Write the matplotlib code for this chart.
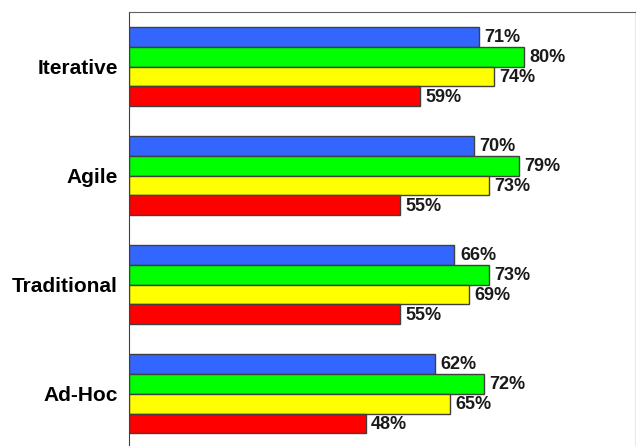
import numpy as np
import matplotlib
matplotlib.use('Agg')
import matplotlib.pyplot as plt

# data
categories = ['Iterative', 'Agile', 'Traditional', 'Ad-Hoc']
blue_vals = [71, 70, 66, 62]
green_vals = [80, 79, 73, 72]
yellow_vals = [74, 73, 69, 65]
red_vals = [59, 55, 55, 48]

series = [blue_vals, green_vals, yellow_vals, red_vals]
colors = ['#3366FF', '#00FF00', '#FFFF00', '#FF0000']

plt.rcParams['font.family'] = ['Liberation Sans', 'DejaVu Sans']

fig = plt.figure(figsize=(6.36, 4.46), dpi=100)
ax = fig.add_axes([129/636, 0, (635-129)/636, (446-12)/446])

h = 0.182
centers = np.arange(len(categories)) + 0.5
offsets = (np.arange(4) - 1.5) * h

for vals, off, col in zip(series, offsets, colors):
    ys = centers + off
    ax.barh(ys, vals, height=h, color=col, edgecolor='#404040', linewidth=1)
    for y, v in zip(ys, vals):
        ax.text(v + 1.1, y + 0.01, f'{v}%', va='center', ha='left',
                fontsize=13, fontweight='bold', color='#1a1a1a')

ax.set_xlim(0, 102.6)
ax.set_ylim(3.98, 0)
ax.set_yticks(centers)
ax.set_yticklabels(categories, fontsize=15, fontweight='bold')
ax.tick_params(axis='y', length=0, pad=8)
ax.set_xticks([])

ax.spines['bottom'].set_visible(False)
ax.spines['top'].set_color('#606060')
ax.spines['left'].set_color('#404040')
ax.spines['right'].set_color('#e8e8e8')

plt.savefig('out.png', dpi=100)
